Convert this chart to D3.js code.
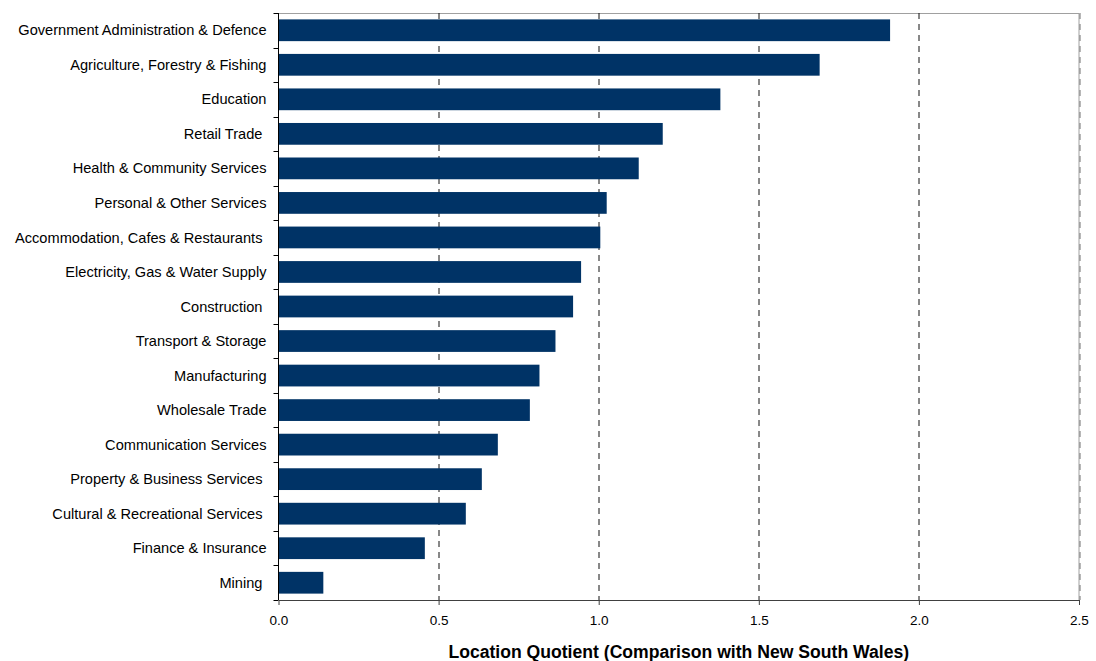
<!DOCTYPE html>
<html>
<head>
<meta charset="utf-8">
<script src="https://cdn.jsdelivr.net/npm/d3@7"></script>
<style>
  body { margin: 0; background: #fff; }
  text { font-family: "Liberation Sans", Arial, sans-serif; }
</style>
</head>
<body>
<div id="chart"></div>
<script>
// industries, top to bottom (trailing spaces are in the original labels)
var industries = [
    "Government Administration & Defence",
    "Agriculture, Forestry & Fishing",
    "Education",
    "Retail Trade ",
    "Health & Community Services",
    "Personal & Other Services",
    "Accommodation, Cafes & Restaurants ",
    "Electricity, Gas & Water Supply",
    "Construction ",
    "Transport & Storage",
    "Manufacturing",
    "Wholesale Trade",
    "Communication Services",
    "Property & Business Services ",
    "Cultural & Recreational Services ",
    "Finance & Insurance",
    "Mining "
];
var quotients = [1.91, 1.69, 1.38, 1.20, 1.125, 1.025, 1.005, 0.945, 0.92, 0.865, 0.815, 0.785, 0.685, 0.635, 0.585, 0.457, 0.14];
var xTicks = [0, 0.5, 1.0, 1.5, 2.0, 2.5];
var axisTitle = "Location Quotient (Comparison with New South Wales)";

var width = 1096, height = 661;
var margin = {top: 13, right: 17, bottom: 61, left: 278.5};
var innerW = width - margin.left - margin.right;
var innerH = height - margin.top - margin.bottom;

var svg = d3.select("#chart").append("svg")
    .attr("width", width)
    .attr("height", height);

var g = svg.append("g")
    .attr("transform", "translate(" + margin.left + "," + margin.top + ")");

var x = d3.scaleLinear().domain([0, 2.5]).range([0, innerW]);
var y = d3.scaleBand().domain(industries).range([0, innerH]).paddingInner(0.37).paddingOuter(0.185);

// plot border (top and right)
g.append("path")
    .attr("d", "M0,0.5H" + innerW + "V" + innerH)
    .attr("fill", "none")
    .attr("stroke", "#a0a0a0")
    .attr("stroke-width", 1);

// dashed gridlines
g.selectAll("line.grid")
    .data(xTicks.slice(1))
    .enter().append("line")
    .attr("class", "grid")
    .attr("x1", function(d) { return Math.round(x(d)) + 0.5; })
    .attr("x2", function(d) { return Math.round(x(d)) + 0.5; })
    .attr("y1", 0)
    .attr("y2", innerH)
    .attr("stroke", function(d) { return d === 2.5 ? "#707070" : "#111"; })
    .attr("stroke-dasharray", "6,5");

// bars
g.selectAll("rect.bar")
    .data(quotients)
    .enter().append("rect")
    .attr("class", "bar")
    .attr("x", x(0))
    .attr("y", function(d, i) { return y(industries[i]); })
    .attr("width", function(d) { return x(d) - x(0); })
    .attr("height", y.bandwidth())
    .attr("fill", "#003366");

// y axis: ticks on category boundaries
var boundaries = d3.range(industries.length + 1).map(function(i) { return i * innerH / industries.length; });
g.append("line")
    .attr("x1", 0).attr("x2", 0)
    .attr("y1", 0).attr("y2", innerH)
    .attr("stroke", "#000");
g.selectAll("line.ytick")
    .data(boundaries)
    .enter().append("line")
    .attr("class", "ytick")
    .attr("x1", -5).attr("x2", 0)
    .attr("y1", function(d) { return Math.round(d) + 0.5; })
    .attr("y2", function(d) { return Math.round(d) + 0.5; })
    .attr("stroke", "#000");
g.selectAll("text.ylab")
    .data(industries)
    .enter().append("text")
    .attr("class", "ylab")
    .attr("x", -12)
    .attr("y", function(d) { return y(d) + y.bandwidth() / 2; })
    .attr("dy", "0.35em")
    .attr("text-anchor", "end")
    .style("white-space", "pre")
    .attr("font-size", 14.6)
    .attr("fill", "#000")
    .text(function(d) { return d; });

// x axis
var xAxis = g.append("g")
    .attr("transform", "translate(0," + innerH + ")")
    .call(d3.axisBottom(x).tickValues(xTicks).tickFormat(d3.format(".1f")).tickSize(5).tickSizeOuter(0));
xAxis.select(".domain").attr("stroke", "#404040");
xAxis.selectAll(".tick line").attr("stroke", "#404040");
xAxis.selectAll(".tick text")
    .attr("font-size", 13.5)
    .attr("font-family", "'Liberation Sans', Arial, sans-serif")
    .attr("fill", "#000")
    .attr("y", 15)
    .attr("dy", "0.71em");

g.append("text")
    .attr("x", innerW / 2)
    .attr("y", innerH + 58)
    .attr("text-anchor", "middle")
    .attr("font-size", 17.6)
    .attr("font-weight", "bold")
    .attr("fill", "#000")
    .text(axisTitle);
</script>
</body>
</html>
